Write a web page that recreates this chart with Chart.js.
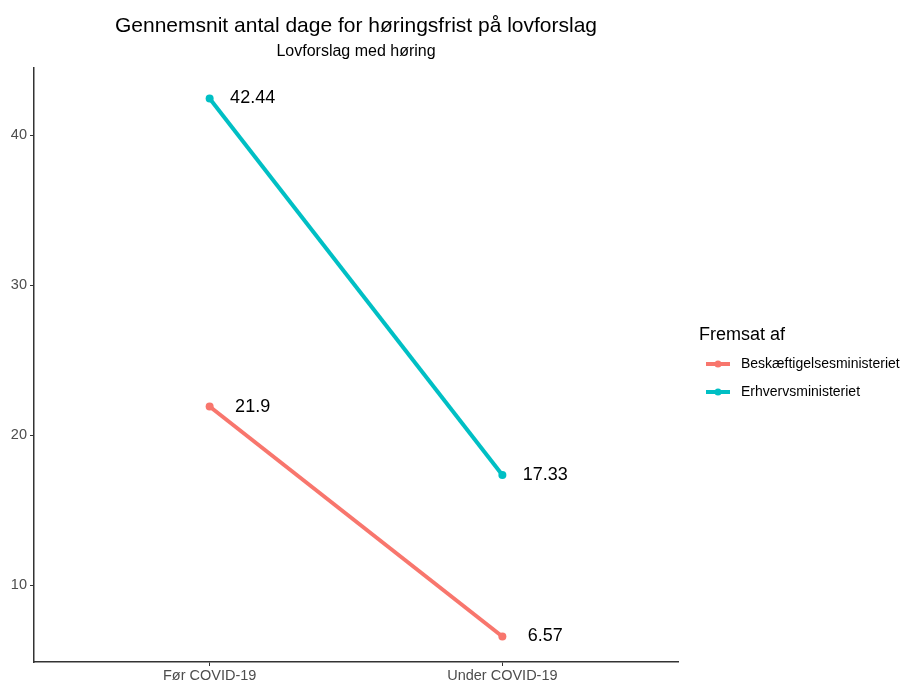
<!DOCTYPE html>
<html>
<head>
<meta charset="utf-8">
<title>Høringsfrist på lovforslag</title>
<script src="https://cdn.jsdelivr.net/npm/chart.js@4/dist/chart.umd.min.js"></script>
<style>
  body { margin: 0; background: #fff; }
  #wrap { width: 901px; height: 684px; position: relative; }
</style>
</head>
<body>
<div id="wrap"><canvas id="chart"></canvas></div>
<script>
// Periods on the x axis
const periods = ['Før COVID-19', 'Under COVID-19'];
// Ministries (legend order) and their colours
const ministries = ['Beskæftigelsesministeriet', 'Erhvervsministeriet'];
const colors = ['#F8766D', '#00BFC4'];
// Average number of days per period
const beskaeftigelse = [21.9, 6.57];
const erhverv = [42.44, 17.33];
// Y axis ticks
const yTicks = [10, 20, 30, 40];

const titleText = 'Gennemsnit antal dage for høringsfrist på lovforslag';
const subtitleText = 'Lovforslag med høring';
const legendTitle = 'Fremsat af';

const FONT = 'Arial, "Liberation Sans", sans-serif';

function toPoints(values) {
  return values.map((v, i) => ({ x: i + 1, y: v }));
}

// Title, subtitle, value labels and legend drawn on top of the chart
const annotations = {
  id: 'annotations',
  afterDraw(chart) {
    const ctx = chart.ctx;
    const area = chart.chartArea;
    const cx = (area.left + area.right) / 2;
    ctx.save();

    // titles
    ctx.fillStyle = '#000';
    ctx.textAlign = 'center';
    ctx.textBaseline = 'middle';
    ctx.font = '21px ' + FONT;
    ctx.fillText(titleText, cx, 26);
    ctx.font = '16px ' + FONT;
    ctx.fillText(subtitleText, cx, 52);

    // value labels next to each point
    ctx.font = '18px ' + FONT;
    chart.data.datasets.forEach((ds, di) => {
      const meta = chart.getDatasetMeta(di);
      meta.data.forEach((pt, i) => {
        ctx.fillText(String(ds.data[i].y), pt.x + 43, pt.y);
      });
    });

    // legend
    ctx.textAlign = 'left';
    ctx.font = '18px ' + FONT;
    ctx.fillText(legendTitle, 699, 335);
    ctx.font = '14px ' + FONT;
    chart.data.datasets.forEach((ds, di) => {
      const y = 364 + di * 28;
      ctx.strokeStyle = ds.borderColor;
      ctx.lineWidth = 4;
      ctx.beginPath();
      ctx.moveTo(706, y);
      ctx.lineTo(730, y);
      ctx.stroke();
      ctx.fillStyle = ds.borderColor;
      ctx.beginPath();
      ctx.arc(718, y, 3.5, 0, Math.PI * 2);
      ctx.fill();
      ctx.fillStyle = '#000';
      ctx.fillText(ds.label, 741, y);
    });
    ctx.restore();
  }
};

new Chart(document.getElementById('chart'), {
  type: 'line',
  data: {
    datasets: [
      {
        label: ministries[0],
        data: toPoints(beskaeftigelse),
        borderColor: colors[0],
        backgroundColor: colors[0],
        borderWidth: 4,
        pointRadius: 4,
        pointBorderWidth: 0,
        pointHoverRadius: 4
      },
      {
        label: ministries[1],
        data: toPoints(erhverv),
        borderColor: colors[1],
        backgroundColor: colors[1],
        borderWidth: 4,
        pointRadius: 4,
        pointBorderWidth: 0,
        pointHoverRadius: 4
      }
    ]
  },
  options: {
    responsive: true,
    maintainAspectRatio: false,
    animation: false,
    layout: {
      padding: { top: 68, right: 223, bottom: 0, left: 0 }
    },
    plugins: {
      legend: { display: false },
      tooltip: { enabled: false }
    },
    scales: {
      x: {
        type: 'linear',
        min: 0.4,
        max: 2.6,
        afterBuildTicks: (scale) => {
          scale.ticks = periods.map((p, i) => ({ value: i + 1 }));
        },
        afterFit: (scale) => { scale.height = 22; },
        ticks: {
          color: '#4d4d4d',
          font: { family: FONT, size: 14.5 },
          padding: 1,
          maxRotation: 0,
          callback: (v) => periods[v - 1]
        },
        grid: { drawOnChartArea: false, drawTicks: true, tickLength: 4, color: '#333', lineWidth: 1 },
        border: { display: true, color: '#333', width: 1.5 }
      },
      y: {
        min: 4.87,
        max: 44.47,
        afterBuildTicks: (scale) => {
          scale.ticks = yTicks.map((v) => ({ value: v }));
        },
        afterFit: (scale) => { scale.width = 34; },
        ticks: {
          color: '#4d4d4d',
          font: { family: FONT, size: 14.5 },
          padding: 3
        },
        grid: { drawOnChartArea: false, drawTicks: true, tickLength: 4, color: '#333', lineWidth: 1 },
        border: { display: true, color: '#333', width: 1.5 }
      }
    }
  },
  plugins: [annotations]
});
</script>
</body>
</html>
